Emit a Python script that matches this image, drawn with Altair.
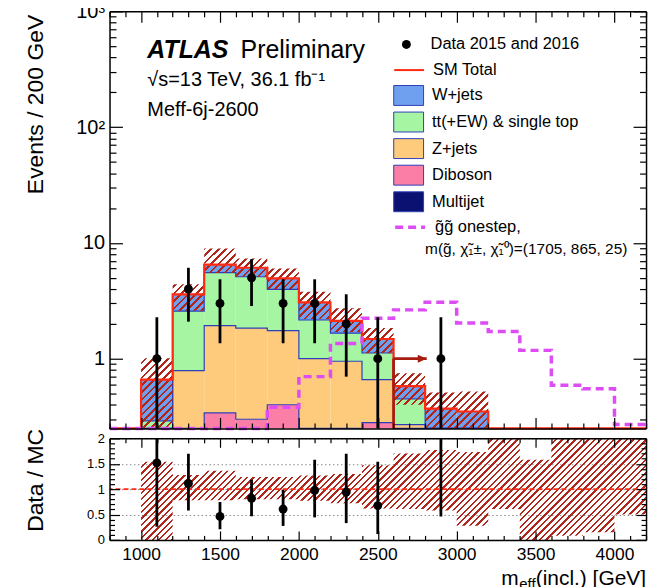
import altair as alt
import numpy as np
import pandas as pd

# ------------------------------------------------------------------ values
EDGES = list(range(800, 4400, 200))            # bin edges in GeV (17 bins, 800..4200)

MULTIJET = [0, 0, 0, 0, 0, 0, 0, 0, 0, 0, 0, 0, 0, 0, 0, 0, 0]
DIBOSON  = [0, 0.05, 0.20, 0.34, 0.30, 0.40, 0.20, 0.20, 0.28, 0.10, 0.03, 0.03, 0, 0, 0, 0, 0]
ZJETS    = [0, 0.15, 0.59, 1.59, 1.54, 1.35, 0.80, 0.75, 0.38, 0.17, 0.09, 0.07, 0, 0, 0, 0, 0]
TTBAR    = [0, 0.09, 1.79, 3.60, 3.26, 2.22, 1.16, 0.71, 0.46, 0.18, 0.08, 0.08, 0, 0, 0, 0, 0]
WJETS    = [0, 0.37, 1.02, 0.97, 1.00, 0.97, 0.91, 0.46, 0.36, 0.13, 0.17, 0.17, 0, 0, 0, 0, 0]
SIGNAL   = [0, 0, 0, 0, 0, 0.38, 0.70, 1.35, 2.24, 2.64, 3.07, 2.03, 1.72, 1.18, 0.59, 0.55, 0.27]

BAND_EDGES = list(range(1000, 3400, 200))      # 11 bins, 1000..3200
BAND_HI = [1.01, 4.39, 8.93, 7.34, 6.00, 3.79, 2.73, 1.84, 0.75, 0.51, 0.52]
BAND_LO = [0.0, 2.60, 5.50, 5.10, 4.00, 2.20, 1.70, 1.12, 0.40, 0.0, 0.0]

RBAND_EDGES = list(range(1000, 4400, 200))     # 16 bins, 1000..4200
RBAND_LO = [0.0, 0.78, 0.78, 0.80, 0.80, 0.77, 0.72, 0.62, 0.61, 0.58, 0.28, 0.61, 0.0, 0.08, 0.15, 0.50]
RBAND_HI = [1.54, 1.28, 1.36, 1.24, 1.24, 1.27, 1.30, 1.47, 1.70, 1.77, 1.73, 2.0, 1.58, 2.0, 2.0, 2.0]

DATA_X   = [1100, 1300, 1500, 1700, 1900, 2100, 2300, 2500, 2900]
DATA_N   = [1, 4, 3, 5, 3, 3, 2, 1, 1]
DATA_EUP = [1.28, 2.10, 1.85, 2.24, 1.85, 1.85, 1.60, 1.28, 1.28]
DATA_EDN = [0.83, 1.91, 1.64, 2.15, 1.64, 1.64, 1.30, 0.83, 0.83]

CUT, ARROW_TIP, ARROW_LEVEL = 2600, 2810, 1.0

NAMES = ["Multijet", "Diboson", "Z+jets", "tt(+EW) & single top", "W+jets"]   # bottom -> top
LEGEND_ORDER = ["W+jets", "tt(+EW) & single top", "Z+jets", "Diboson", "Multijet"]
SIG_LABEL = "g\u0303g\u0303 onestep,"
SIG_LINE2 = "m(g\u0303, \u03c7\u0303\u2081\u00b1, \u03c7\u0303\u2081\u2070)=(1705, 865, 25)"

# ------------------------------------------------------------------ style
FONT = "Liberation Sans"
BLUE, GREEN, ORANGE, PINK, NAVY = "#6fa0f0", "#a6f5a3", "#fdcb7b", "#fb7ea6", "#0b1170"
RED, DARKRED, MAGENTA, OUTLINE, HATCH = "#ff2a12", "#a81c10", "#dd4cf4", "#2d3fb8", "#b0261a"
W, H1, H2 = 539, 419, 102
FLOOR = 0.01

XS = alt.Scale(domain=[800, 4200], nice=False, zero=False)
YS = alt.Scale(type="log", domain=[0.25, 1000], nice=False, clamp=True)
RS = alt.Scale(domain=[0, 2], nice=False, zero=False)

XTICKS = list(range(800, 4201, 100))
YTICKS = [round(m * 10.0 ** e, 6) for e in range(-1, 3) for m in range(1, 10)
          if m * 10.0 ** e >= 0.25] + [1000]
RTICKS = [round(0.1 * k, 1) for k in range(21)]
X_MAJOR = "datum.value % 500 === 0"
Y_MAJOR = "abs(log(datum.value)/LN10 - round(log(datum.value)/LN10)) < 0.001"
R_MAJOR = "abs(datum.value*2 - round(datum.value*2)) < 0.001"


def tick_axis(orient, offset, values, test, major, minor):
    return alt.Axis(orient=orient, offset=offset, values=values, labels=False, title=None,
                    grid=False, domain=True, domainColor="black", domainWidth=1.5,
                    ticks=True, tickColor="black", tickWidth=1.2,
                    tickSize={"condition": {"test": test, "value": major}, "value": minor},
                    zindex=3)


def hatch_fill(w, h, period, frac=0.36):
    r = h / w
    a = (1 + r) / (1 + r * r)
    b = a * r
    n = max(1, int(round((w + h) / np.sqrt(2) / period)))
    T = "rgba(255,255,255,0)"
    stops = []
    for k in range(n):
        s0 = (k + 0.5 - frac / 2) / n
        s1 = (k + 0.5 + frac / 2) / n
        stops += [(k / n, T), (s0, T), (s0, HATCH), (s1, HATCH), (s1, T)]
    stops.append((1.0, T))
    return alt.LinearGradient(gradient="linear", x1=0, y1=0, x2=round(a, 4), y2=round(b, 4),
                              stops=[alt.GradientStop(offset=round(o, 5), color=c) for o, c in stops])


# ------------------------------------------------------------------ tables
lo, hi = EDGES[:-1], EDGES[1:]
comps = np.array([MULTIJET, DIBOSON, ZJETS, TTBAR, WJETS], dtype=float)
cum = np.cumsum(comps, axis=0)
total = cum[-1]

rows = []
for i, nm in enumerate(NAMES):
    for b in range(len(lo)):
        if comps[i, b] <= 0:
            continue
        rows.append({"comp": nm, "x": lo[b], "x2": hi[b],
                     "y": max(cum[i, b], FLOOR), "y2": max(cum[i - 1, b] if i else 0.0, FLOOR)})
stack_df = pd.DataFrame(rows)

orow = []
for i in (1, 2, 3):
    for b in range(1, 12):
        orow.append({"comp": NAMES[i], "x": lo[b], "y": max(cum[i, b], FLOOR)})
    orow.append({"comp": NAMES[i], "x": hi[11], "y": max(cum[i, 11], FLOOR)})
outline_df = pd.DataFrame(orow)

total_df = pd.DataFrame([{"x": lo[b], "y": max(total[b], FLOOR), "lab": "SM Total"} for b in range(len(lo))]
                        + [{"x": hi[-1], "y": max(total[-1], FLOOR), "lab": "SM Total"}])
signal_df = pd.DataFrame([{"x": lo[b], "y": max(SIGNAL[b], FLOOR), "lab": SIG_LABEL} for b in range(len(lo))]
                         + [{"x": hi[-1], "y": max(SIGNAL[-1], FLOOR), "lab": SIG_LABEL}])

hatch_df = pd.DataFrame([{"x": BAND_EDGES[k], "hi": BAND_HI[k], "lo": max(BAND_LO[k], FLOOR)} for k in range(len(BAND_HI))]
                        + [{"x": BAND_EDGES[-1], "hi": BAND_HI[-1], "lo": max(BAND_LO[-1], FLOOR)}])
rband_df = pd.DataFrame([{"x": RBAND_EDGES[k], "hi": RBAND_HI[k], "lo": RBAND_LO[k]} for k in range(len(RBAND_HI))]
                        + [{"x": RBAND_EDGES[-1], "hi": RBAND_HI[-1], "lo": RBAND_LO[-1]}])

n = np.array(DATA_N, float)
data_df = pd.DataFrame({"x": DATA_X, "n": n, "up": n + np.array(DATA_EUP),
                        "dn": np.maximum(n - np.array(DATA_EDN), FLOOR),
                        "lab": "Data 2015 and 2016"})
mc = total[[(x - 800) // 200 for x in DATA_X]]
ratio_df = pd.DataFrame({"x": DATA_X, "r": n / mc, "rup": (n + np.array(DATA_EUP)) / mc,
                         "rdn": (n - np.array(DATA_EDN)) / mc})
arrow_df = pd.DataFrame({"cut": [CUT], "tip": [ARROW_TIP], "lvl": [ARROW_LEVEL], "bot": [FLOOR]})
one_df = pd.DataFrame({"r": [1.0]})
dummy = pd.DataFrame({"a": [0]})

# ------------------------------------------------------------------ legends
LEG = dict(title=None, orient="none", padding=0, labelFont=FONT, labelFontSize=16.5,
           labelColor="black", labelLimit=400)
fill_legend = alt.Legend(**LEG, legendX=290, legendY=74, symbolType="M-1.5,-1H1.5V1H-1.5Z",
                         symbolSize=400, symbolStrokeColor=OUTLINE, symbolStrokeWidth=1,
                         symbolOpacity=1, labelOffset=13, rowPadding=1.7)
data_legend = alt.Legend(**LEG, legendX=290, legendY=25, symbolType="circle", symbolSize=80,
                         symbolFillColor="black", symbolStrokeColor="black", labelOffset=16)
sm_legend = alt.Legend(**LEG, legendX=285, legendY=43, symbolType="stroke", symbolSize=900,
                       symbolStrokeWidth=2, symbolStrokeColor=RED, labelOffset=8)
sig_legend = alt.Legend(**LEG, legendX=285, legendY=200, symbolType="stroke", symbolSize=900,
                        symbolStrokeWidth=3.5, symbolStrokeColor=MAGENTA, symbolDash=[8, 5],
                        labelOffset=8)

# ------------------------------------------------------------------ top panel
y_lab_top = alt.Axis(orient="left", values=[1, 10, 100, 1000],
                     labelExpr="datum.value >= 999 ? '10\u00b3' : datum.value >= 99 ? '10\u00b2' : datum.value >= 9 ? '10' : '1'",
                     ticks=False, tickSize=0, domain=False, grid=False, labelFontSize=20,
                     labelPadding=5, labelFont=FONT, labelColor="black",
                     title="Events / 200 GeV", titleFont=FONT, titleFontSize=23, titleFontWeight="normal",
                     titleColor="black", titleAngle=270, titleAlign="right", titleBaseline="alphabetic",
                     titleX=-67, titleY=3)

stack = alt.Chart(stack_df).mark_rect(stroke=OUTLINE, strokeWidth=0).encode(
    x=alt.X("x:Q", scale=XS, axis=tick_axis("bottom", -H1, XTICKS, X_MAJOR, 11, 5.5)),
    x2="x2:Q",
    y=alt.Y("y:Q", scale=YS, axis=y_lab_top),
    y2="y2:Q",
    fill=alt.Fill("comp:N", scale=alt.Scale(domain=LEGEND_ORDER, range=[BLUE, GREEN, ORANGE, PINK, NAVY]),
                  legend=fill_legend),
)
outline = alt.Chart(outline_df).mark_line(interpolate="step-after", color=OUTLINE, strokeWidth=1.2).encode(
    x=alt.X("x:Q", scale=XS, axis=tick_axis("top", -H1, XTICKS, X_MAJOR, 11, 5.5)),
    y=alt.Y("y:Q", scale=YS, axis=tick_axis("right", -W, YTICKS, Y_MAJOR, 13, 6.5)),
    detail="comp:N",
)
hatch_top = alt.Chart(hatch_df).mark_area(interpolate="step-after", fill=hatch_fill(348.7, 181.0, 5.3),
                                          opacity=1).encode(
    x=alt.X("x:Q", scale=XS, axis=None),
    y=alt.Y("hi:Q", scale=YS, axis=tick_axis("left", -W, YTICKS, Y_MAJOR, 13, 6.5)),
    y2="lo:Q",
)
total_line = alt.Chart(total_df).mark_line(interpolate="step-after", strokeWidth=2.2).encode(
    x=alt.X("x:Q", scale=XS, axis=None),
    y=alt.Y("y:Q", scale=YS, axis=None),
    stroke=alt.Stroke("lab:N", scale=alt.Scale(domain=["SM Total"], range=[RED]), legend=sm_legend),
)
signal_line = alt.Chart(signal_df).mark_line(interpolate="step-after", strokeWidth=3.5, color=MAGENTA).encode(
    x=alt.X("x:Q", scale=XS, axis=None),
    y=alt.Y("y:Q", scale=YS, axis=None),
    strokeDash=alt.StrokeDash("lab:N", scale=alt.Scale(domain=[SIG_LABEL], range=[[8, 5]]), legend=sig_legend),
)
arrow_v = alt.Chart(arrow_df).mark_rule(color=DARKRED, strokeWidth=2.8).encode(
    x=alt.X("cut:Q", scale=XS, axis=None), y=alt.Y("bot:Q", scale=YS, axis=None), y2="lvl:Q")
arrow_h = alt.Chart(arrow_df).mark_rule(color=DARKRED, strokeWidth=2.8).encode(
    x=alt.X("cut:Q", scale=XS, axis=None), x2="tip:Q", y=alt.Y("lvl:Q", scale=YS, axis=None))
arrow_head = alt.Chart(arrow_df).mark_point(shape="M-2,-0.9L0,0L-2,0.9Z", filled=True, size=81,
                                            color=DARKRED, opacity=1).encode(
    x=alt.X("tip:Q", scale=XS, axis=None), y=alt.Y("lvl:Q", scale=YS, axis=None))
errbars = alt.Chart(data_df).mark_rule(color="black", strokeWidth=2.8).encode(
    x=alt.X("x:Q", scale=XS, axis=None), y=alt.Y("dn:Q", scale=YS, axis=None), y2="up:Q")
points = alt.Chart(data_df).mark_point(filled=True, size=80, color="black", opacity=1).encode(
    x=alt.X("x:Q", scale=XS, axis=None), y=alt.Y("n:Q", scale=YS, axis=None),
    shape=alt.Shape("lab:N", scale=alt.Scale(domain=["Data 2015 and 2016"], range=["circle"]),
                    legend=data_legend),
)


def label(text, x, y, size, align="left", **kw):
    return alt.Chart(dummy).mark_text(text=text, align=align, baseline="alphabetic", font=FONT,
                                      fontSize=size, color="black", **kw).encode(
        x=alt.value(x), y=alt.value(y))


texts = [
    label("ATLAS", 38, 46.7, 25, fontWeight="bold", fontStyle="italic"),
    label("Preliminary", 131.7, 46.7, 25),
    label("\u221as=13 TeV, 36.1 fb\u207b\u00b9", 38, 75, 20),
    label("Meff-6j-2600", 38, 105, 20),
    label(SIG_LINE2, 317, 244, 15.5),
]

top = alt.layer(stack, outline, hatch_top, total_line, signal_line, arrow_v, arrow_h, arrow_head,
                errbars, points, *texts).resolve_axis(x="independent", y="independent").properties(
    width=W, height=H1)

# ------------------------------------------------------------------ ratio panel
x_lab_bot = alt.Axis(orient="bottom", values=[1000, 1500, 2000, 2500, 3000, 3500, 4000], format="d",
                     ticks=False, tickSize=0, domain=False, grid=False, labelFontSize=17.5,
                     labelPadding=6, labelFlush=False, labelFont=FONT, labelColor="black", title=None)
r_lab = alt.Axis(orient="left", values=[0, 0.5, 1, 1.5, 2], format="~g", ticks=False, tickSize=0,
                 domain=False, grid=True, gridColor="#8a8a8a", gridDash=[1.5, 2.5], gridWidth=1,
                 labelFontSize=13, labelPadding=5, labelFont=FONT, labelColor="black",
                 title="Data / MC", titleFont=FONT, titleFontSize=23, titleFontWeight="normal",
                 titleColor="black", titleAngle=270, titleAlign="right", titleBaseline="alphabetic",
                 titleX=-67, titleY=-10, zindex=0)

band = alt.Chart(rband_df).mark_area(interpolate="step-after", fill=hatch_fill(507.3, 102.0, 4.6),
                                     opacity=1).encode(
    x=alt.X("x:Q", scale=XS, axis=x_lab_bot),
    y=alt.Y("hi:Q", scale=RS, axis=r_lab),
    y2="lo:Q",
)
oneline = alt.Chart(one_df).mark_rule(color=RED, strokeDash=[5, 3], strokeWidth=1.6).encode(
    y=alt.Y("r:Q", scale=RS, axis=tick_axis("right", -W, RTICKS, R_MAJOR, 10, 5)))
rerr = alt.Chart(ratio_df).mark_rule(color="black", strokeWidth=2.8, clip=True).encode(
    x=alt.X("x:Q", scale=XS, axis=tick_axis("bottom", -H2, XTICKS, X_MAJOR, 9, 4.5)),
    y=alt.Y("rdn:Q", scale=RS, axis=tick_axis("left", -W, RTICKS, R_MAJOR, 10, 5)),
    y2="rup:Q",
)
rpts = alt.Chart(ratio_df).mark_point(filled=True, size=80, color="black", opacity=1, clip=True).encode(
    x=alt.X("x:Q", scale=XS, axis=tick_axis("top", -H2, XTICKS, X_MAJOR, 9, 4.5)),
    y=alt.Y("r:Q", scale=RS, axis=None),
)
# x-axis title  m_eff(incl.) [GeV]  with a lowered "eff" (placed below the ratio panel)
xtitle = [
    label("(incl.) [GeV]", W, H2 + 45, 21, align="right"),
    label("eff", W - 111, H2 + 49, 15, align="right"),
    label("m", W - 128, H2 + 45, 21, align="right"),
]
bottom = alt.layer(band, oneline, rerr, rpts, *xtitle).resolve_axis(
    x="independent", y="independent").properties(width=W, height=H2)

chart = alt.vconcat(top, bottom, spacing=10, bounds="flush").properties(
    padding={"left": 17, "top": -8, "right": 0, "bottom": 0}
).configure(font=FONT).configure_view(strokeWidth=0)

chart.save("out.html", embed_options={"renderer": "svg", "actions": False})
